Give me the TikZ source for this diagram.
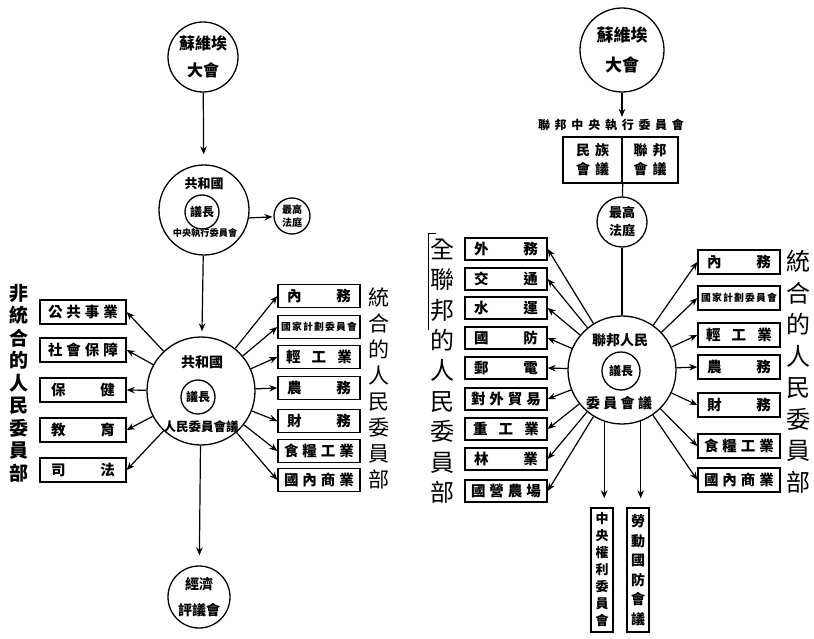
\documentclass[tikz,border=0pt]{standalone}
\usepackage{fontspec}
\newfontfamily\cjk{Noto Sans CJK TC}
\usetikzlibrary{arrows.meta}
\newcommand{\boxtxt}[2]{\makebox[#1pt]{#2}}
\begin{document}
\begin{tikzpicture}[x=1pt,y=-1pt,
  ln/.style={line width=1.2pt},
  arr/.style={ln,-{Stealth[length=8pt,width=6.5pt]}},
  bx/.style={draw,line width=1.4pt,minimum width=82pt,minimum height=23pt,inner sep=0pt,font=\cjk\bfseries\fontsize{14.5}{14.5}\selectfont},
  smallbx/.style={bx,font=\cjk\bfseries\fontsize{9.8}{9.8}\selectfont},
  circ/.style={draw,circle,line width=1.3pt,inner sep=0pt,align=center},
  ctext/.style={inner sep=1pt,font=\cjk\bfseries\fontsize{13}{13}\selectfont},
  vlab/.style={align=center,inner sep=0pt}
]
\useasboundingbox (0,0) rectangle (814,639);

% ================= LEFT DIAGRAM =================
\node[circ,minimum size=70pt,font=\cjk\bfseries\fontsize{16}{27}\selectfont] (L1) at (203,57) {蘇維埃\\大會};
\node[circ,minimum size=90pt] (L2) at (204,210) {};
\node[ctext] (L2a) at (204,184) {共和國};
\node[circ,minimum size=34pt,font=\cjk\bfseries\fontsize{12}{12}\selectfont] (L2b) at (202,212) {議長};
\node[ctext,font=\cjk\bfseries\fontsize{9.2}{9.2}\selectfont] (L2c) at (205,233) {中央執行委員會};
\node[circ,minimum size=36pt,font=\cjk\bfseries\fontsize{10}{13}\selectfont] (Lsc) at (292,216) {最高\\法庭};
\node[circ,minimum size=108pt] (L3) at (201,391) {};
\node[ctext,font=\cjk\bfseries\fontsize{14}{14}\selectfont] (L3a) at (202,362) {共和國};
\node[circ,minimum size=34pt,font=\cjk\bfseries\fontsize{12}{12}\selectfont] (L3b) at (198,397) {議長};
\node[ctext,font=\cjk\bfseries\fontsize{12.5}{12.5}\selectfont] (L3c) at (201,427) {人民委員會議};
\node[circ,minimum size=62pt,font=\cjk\bfseries\fontsize{14}{26}\selectfont] (L4) at (199,597) {經濟\\評議會};

\draw[arr,shorten >=10pt] (L1) -- (L2);
\draw[arr,shorten >=1pt] (L2.-10) -- (Lsc);
\draw[arr,shorten >=5pt] (L2) -- (L3);
\draw[arr,shorten >=10pt] (L3) -- (L4);

% left boxes (non-unified)
\node[bx,minimum width=86pt,minimum height=24pt] (LL1) at (83,312) {\boxtxt{70}{公\hfill 共\hfill 事\hfill 業}};
\node[bx,minimum width=86pt,minimum height=24pt] (LL2) at (83,350) {\boxtxt{70}{社\hfill 會\hfill 保\hfill 障}};
\node[bx,minimum width=86pt,minimum height=24pt] (LL3) at (83,390) {\boxtxt{64}{保\hfill 健}};
\node[bx,minimum width=86pt,minimum height=24pt] (LL4) at (83,430) {\boxtxt{64}{教\hfill 育}};
\node[bx,minimum width=86pt,minimum height=24pt] (LL5) at (83,470) {\boxtxt{64}{司\hfill 法}};
\foreach \i in {1,...,5} \draw[arr] (L3) -- (LL\i.east);
\node[vlab,font=\cjk\bfseries\fontsize{19}{22.5}\selectfont] (VL1) at (19,383) {非\\統\\合\\的\\人\\民\\委\\員\\部};

% right boxes (unified)
\node[bx] (LR1) at (319,296) {\boxtxt{64}{內\hfill 務}};
\node[smallbx] (LR2) at (319,327) {\boxtxt{76}{國\hfill 家\hfill 計\hfill 劃\hfill 委\hfill 員\hfill 會}};
\node[bx] (LR3) at (319,357) {\boxtxt{66}{輕\hfill 工\hfill 業}};
\node[bx] (LR4) at (319,388) {\boxtxt{64}{農\hfill 務}};
\node[bx] (LR5) at (319,421) {\boxtxt{64}{財\hfill 務}};
\node[bx] (LR6) at (319,451) {\boxtxt{70}{食\hfill 糧\hfill 工\hfill 業}};
\node[bx] (LR7) at (319,480) {\boxtxt{70}{國\hfill 內\hfill 商\hfill 業}};
\foreach \i in {1,...,7} \draw[arr] (L3) -- (LR\i.west);
\node[vlab,font=\cjk\fontsize{21}{26}\selectfont] (VL2) at (379,388) {統\\合\\的\\人\\民\\委\\員\\部};

% ================= RIGHT DIAGRAM =================
\node[circ,minimum size=84pt,font=\cjk\bfseries\fontsize{17}{29}\selectfont] (R1) at (622,50) {蘇維埃\\大會};
\node[ctext,font=\cjk\bfseries\fontsize{12}{12}\selectfont] (Rt) at (611,125) {\boxtxt{146}{聯\hfill 邦\hfill 中\hfill 央\hfill 執\hfill 行\hfill 委\hfill 員\hfill 會}};
\draw[arr,shorten >=1pt] (R1.south) -- (R1.south |- Rt.north);
\node[bx,minimum width=59pt,minimum height=46pt,align=center,font=\cjk\bfseries\fontsize{14}{19}\selectfont] (Rb1) at (592.5,160) {民\hspace{5pt}族\\會\hspace{5pt}議};
\node[bx,minimum width=56pt,minimum height=46pt,align=center,font=\cjk\bfseries\fontsize{14}{19}\selectfont] (Rb2) at (650,160) {聯\hspace{5pt}邦\\會\hspace{5pt}議};
\node[circ,minimum size=50pt,font=\cjk\bfseries\fontsize{13}{18}\selectfont] (R2) at (622,222) {最高\\法庭};
\draw[ln] (Rb1.south east) -- (R2);
\node[circ,minimum size=108pt] (R3) at (622,370) {};
\draw[ln] (R2) -- (R3);
\node[ctext,font=\cjk\bfseries\fontsize{14}{14}\selectfont] (R3a) at (620,340) {聯邦人民};
\node[circ,minimum size=38pt,font=\cjk\bfseries\fontsize{12}{12}\selectfont] (R3b) at (621,371) {議長};
\node[ctext,font=\cjk\bfseries\fontsize{14}{14}\selectfont] (R3c) at (619,403) {\boxtxt{66}{委\hfill 員\hfill 會\hfill 議}};

% right-left boxes (all-union)
\node[bx,minimum height=22pt] (RL1) at (506,249) {\boxtxt{64}{外\hfill 務}};
\node[bx,minimum height=22pt] (RL2) at (506,279) {\boxtxt{64}{交\hfill 通}};
\node[bx,minimum height=22pt] (RL3) at (506,308) {\boxtxt{64}{水\hfill 運}};
\node[bx,minimum height=22pt] (RL4) at (506,338) {\boxtxt{64}{國\hfill 防}};
\node[bx,minimum height=22pt] (RL5) at (506,368) {\boxtxt{64}{郵\hfill 電}};
\node[bx,minimum height=22pt] (RL6) at (506,399) {\boxtxt{70}{對\hfill 外\hfill 貿\hfill 易}};
\node[bx,minimum height=22pt] (RL7) at (506,429) {\boxtxt{66}{重\hfill 工\hfill 業}};
\node[bx,minimum height=22pt] (RL8) at (506,459) {\boxtxt{64}{林\hfill 業}};
\node[bx,minimum height=22pt] (RL9) at (506,491) {\boxtxt{70}{國\hfill 營\hfill 農\hfill 場}};
\foreach \i in {1,...,9} \draw[arr] (R3) -- (RL\i.east);
\node[vlab,font=\cjk\fontsize{24}{30.4}\selectfont] (VL3) at (442,371) {全\\聯\\邦\\的\\人\\民\\委\\員\\部};
\draw[line width=0.7pt] (VL3.north west) ++(6,-5) coordinate (brA) -- (brA -| 428,0) -- (428,330) coordinate (brB);

% right-right boxes (unified)
\node[bx,minimum height=24pt] (RR1) at (739,262) {\boxtxt{64}{內\hfill 務}};
\node[smallbx,minimum height=24pt] (RR2) at (739,298) {\boxtxt{76}{國\hfill 家\hfill 計\hfill 劃\hfill 委\hfill 員\hfill 會}};
\node[bx,minimum height=24pt] (RR3) at (739,335) {\boxtxt{66}{輕\hfill 工\hfill 業}};
\node[bx,minimum height=24pt] (RR4) at (739,367) {\boxtxt{64}{農\hfill 務}};
\node[bx,minimum height=24pt] (RR5) at (739,405) {\boxtxt{64}{財\hfill 務}};
\node[bx,minimum height=24pt] (RR6) at (739,446) {\boxtxt{70}{食\hfill 糧\hfill 工\hfill 業}};
\node[bx,minimum height=24pt] (RR7) at (739,480) {\boxtxt{70}{國\hfill 內\hfill 商\hfill 業}};
\foreach \i in {1,...,7} \draw[arr] (R3) -- (RR\i.west);
\node[vlab,font=\cjk\fontsize{24}{31.5}\selectfont] (VL4) at (798,372) {統\\合\\的\\人\\民\\委\\員\\部};

% bottom vertical boxes
\node[bx,minimum width=22pt,minimum height=124pt,align=center,font=\cjk\bfseries\fontsize{13}{17}\selectfont] (RB1) at (602,570) {中\\央\\權\\利\\委\\員\\會};
\node[bx,minimum width=22pt,minimum height=124pt,align=center,font=\cjk\bfseries\fontsize{14}{19.5}\selectfont] (RB2) at (638,570) {勞\\動\\國\\防\\會\\議};
\draw[arr,shorten >=9pt] (R3.-109.5) -- (R3.-109.5 |- RB1.north);
\draw[arr,shorten >=9pt] (R3.-70.5) -- (R3.-70.5 |- RB2.north);
\end{tikzpicture}
\end{document}
